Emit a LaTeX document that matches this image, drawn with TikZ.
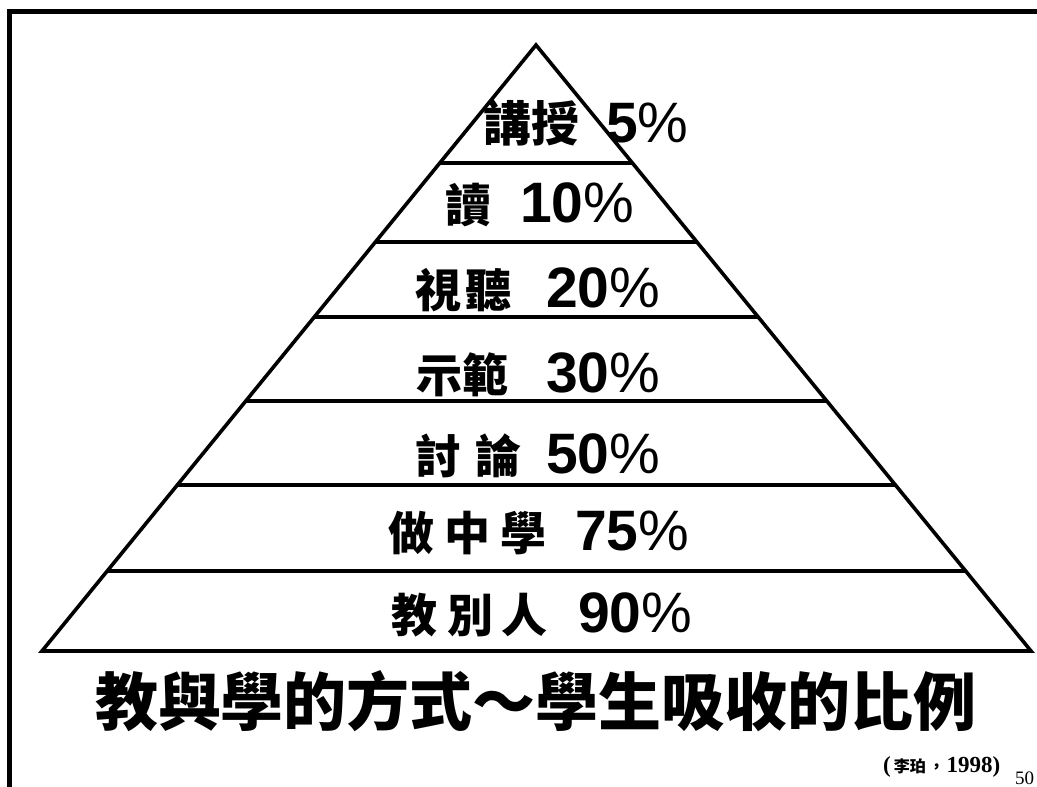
\documentclass[tikz,border=0pt]{standalone}
\usepackage{fontspec}
\setmainfont{Liberation Serif}
\newfontfamily\cjk{Noto Sans CJK TC}
\newfontfamily\arialf{Liberation Sans}
\usetikzlibrary{calc}
\tikzset{
  frameline/.style={line width=5pt},
  pyr/.style={line width=3.6pt, line join=miter, line cap=butt},
  band/.style={line width=3.6pt},
  cjklab/.style={inner sep=0pt, anchor=base west, font=\fontsize{46}{46}\selectfont\cjk\bfseries},
  numlab/.style={inner sep=0pt, anchor=base west},
}
\newcommand{\pct}[1]{{\fontsize{57}{57}\selectfont\arialf\bfseries #1}{\fontsize{57}{57}\selectfont\arialf\%}}
\begin{document}
\begin{tikzpicture}[x=1pt,y=-1pt]
\useasboundingbox (0,0) rectangle (1037,787);
\fill[white] (0,0) rectangle (1037,787);
% frame
\draw[frameline] (9,787) -- (9,11) -- (1037,11);
% pyramid
\coordinate (apex) at (536,45);
\coordinate (bl) at (42,651);
\coordinate (br) at (1031,651);
\draw[pyr] (bl) -- (apex) -- (br) -- cycle;
\foreach \t/\n in {0.1947/1,0.3251/2,0.4488/3,0.5875/4,0.7261/5,0.8680/6}{
  \coordinate (l\n) at ($(apex)!\t!(bl)$);
  \coordinate (r\n) at ($(apex)!\t!(br)$);
  \draw[band] (l\n) -- (r\n);
}
% row labels
\node[cjklab, font=\fontsize{48}{48}\selectfont\cjk\bfseries] (c1) at (483,141) {講授};
\node[numlab] (p1) at (606,142) {\pct{5}};
\node[cjklab] (c2) at (445,222) {讀};
\node[numlab] (p2) at (520,222) {\pct{10}};
\node[cjklab] (c3) at (415,307) {視\hspace{4pt}聽};
\node[numlab] (p3) at (546,307) {\pct{20}};
\node[cjklab] (c4) at (416,392) {示範};
\node[numlab] (p4) at (546,392) {\pct{30}};
\node[cjklab] (c5) at (415,473) {討\hspace{14pt}論};
\node[numlab] (p5) at (546,473) {\pct{50}};
\node[cjklab] (c6) at (388,550) {做\hspace{10pt}中\hspace{10pt}學};
\node[numlab] (p6) at (575,550) {\pct{75}};
\node[cjklab] (c7) at (391,632) {教\hspace{10pt}別\hspace{8pt}人};
\node[numlab] (p7) at (578,632) {\pct{90}};
% title
\node[inner sep=0pt, anchor=base, font=\fontsize{63}{63}\selectfont\cjk\bfseries] (title) at (536,725) {教與學的方式～學生吸收的比例};
% citation
\node[inner sep=0pt, anchor=base west, font=\fontsize{23}{23}\selectfont\bfseries] (cite) at (883,772) {(\hspace{3pt}{\fontsize{16}{16}\selectfont\cjk\bfseries 李珀\,，}\hspace{2pt}1998)};
\node[inner sep=0pt, anchor=base west, font=\fontsize{19}{19}\selectfont] (page) at (1015,784) {50};
\end{tikzpicture}
\end{document}
